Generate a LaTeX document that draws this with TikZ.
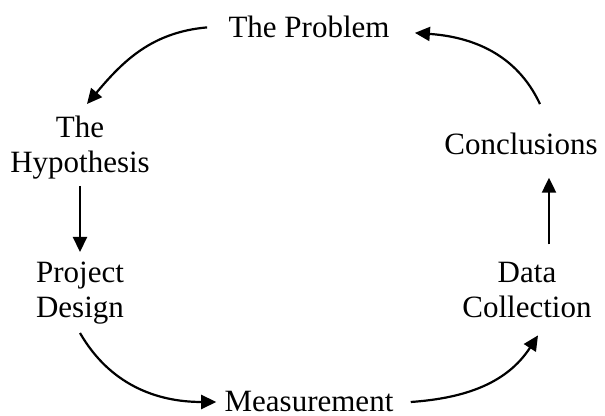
\documentclass[tikz,border=0pt]{standalone}
\usepackage{fontspec}
\setmainfont{Liberation Serif}
\usetikzlibrary{arrows.meta}
\begin{document}
\begin{tikzpicture}[x=0.5pt, y=0.5pt,
  lbl/.style={inner sep=0pt, align=center, font=\fontsize{15.5}{17.5}\selectfont},
  cyc/.style={line width=1.1pt, -{Triangle[length=7.5pt, width=7pt]}}]
  \useasboundingbox (0,0) rectangle (605,416);
  \node[lbl, anchor=base] (prob) at (309,378) {The Problem};
  \node[lbl, anchor=north] (hyp) at (80,300) {The\\Hypothesis};
  \node[lbl, anchor=north] (proj) at (80,154) {Project\\Design};
  \node[lbl, anchor=base] (meas) at (309,4) {Measurement};
  \node[lbl, anchor=north] (data) at (527,154) {Data\\Collection};
  \node[lbl, anchor=base] (conc) at (521,261) {Conclusions};
  \draw[cyc] ([xshift=-10.5pt]prob.west) to[out=185, in=50] ([xshift=3.5pt, yshift=6pt]hyp.north);
  \draw[cyc] ([yshift=-3pt]hyp.south) -- ([yshift=5pt]proj.north);
  \draw[cyc] ([yshift=-4pt]proj.south) to[out=-60, in=180] ([xshift=-4pt]meas.west);
  \draw[cyc] ([xshift=8.5pt]meas.east) to[out=4, in=-123] ([xshift=5.5pt, yshift=-8.5pt]data.south);
  \draw[cyc] ([xshift=11pt, yshift=8.75pt]data.north) -- ([xshift=11pt, yshift=-11pt]data.north |- conc.south);
  \draw[cyc] ([xshift=9.5pt, yshift=14.5pt]conc.north) to[out=115, in=-4] ([xshift=12.5pt, yshift=-2.75pt]prob.east);
\end{tikzpicture}
\end{document}
